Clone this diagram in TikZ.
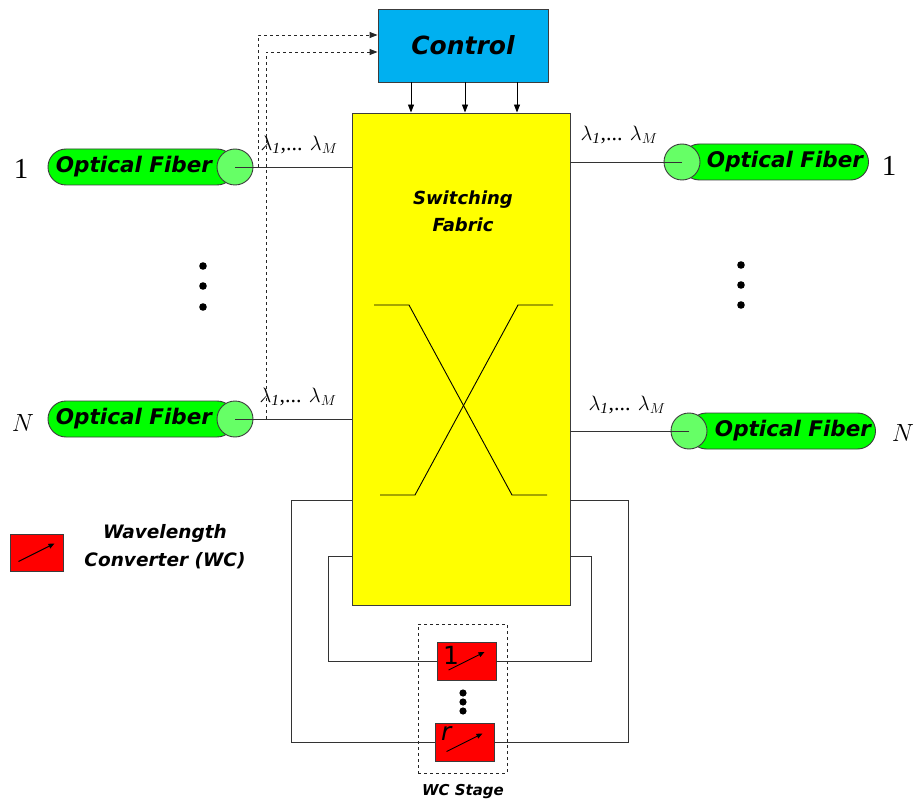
\documentclass[tikz,border=0pt]{standalone}
\usepackage{fontspec}
\setmainfont{Liberation Serif}
\newfontfamily\comicfont{DejaVu Sans}
\usetikzlibrary{arrows.meta,positioning}
\definecolor{ctrlblue}{RGB}{0,176,240}
\definecolor{fibgreen}{RGB}{0,255,0}
\definecolor{fiblight}{RGB}{102,255,102}
\definecolor{wcred}{RGB}{255,0,0}
\definecolor{fabyellow}{RGB}{255,255,0}
\definecolor{edgegray}{RGB}{60,60,60}
\newcommand\comicsize[2]{\comicfont\bfseries\itshape\fontsize{#1}{#2}\selectfont}

\begin{document}
\begin{tikzpicture}[x=1pt,y=-1pt,line width=0.9pt,>={Triangle[length=8pt,width=6pt]},
  ctrlbox/.style   ={draw=edgegray,fill=ctrlblue,minimum width=170pt,minimum height=73pt,font=\comicsize{25}{30}},
  fabricbox/.style ={draw=edgegray,fill=fabyellow,minimum width=218pt,minimum height=492pt},
  fiberbody/.style ={draw=edgegray,fill=fibgreen,rounded corners=18pt,minimum width=187pt,minimum height=36pt,inner sep=0pt},
  fiberend/.style  ={circle,draw=edgegray,fill=fiblight,minimum size=36pt,inner sep=0pt},
  fibertext/.style ={inner sep=0pt,font=\comicsize{21.5}{25}},
  wavelen/.style   ={inner sep=0pt,font=\fontsize{22}{26}\selectfont},
  portnum/.style   ={inner sep=0pt,font=\fontsize{29}{32}\selectfont},
  wcbox/.style     ={draw=edgegray,fill=wcred,minimum width=59pt,minimum height=38pt,inner sep=0pt},
  stagebox/.style  ={draw=black!85,dashed,minimum width=89pt,minimum height=149pt},
  convarrow/.style ={-{Triangle[length=6pt,width=5pt]}},
  fibline/.style   ={draw=black!80},
  loopline/.style  ={draw=black!80},
  tapline/.style   ={draw=black!85,dashed,->}]
\useasboundingbox (0,0) rectangle (916,805);

% control and switching fabric
\node[ctrlbox]   (control) at (463,45.5) {Control};
\node[fabricbox] (fabric)  at (461,359)  {};
\node[inner sep=0pt,align=center,font=\comicsize{18}{27}] (fabtxt) at (463,211) {Switching\\Fabric};
\foreach \dx in {-52,2,54}
  \draw[->] ([xshift=\dx pt]control.south) -- ([xshift=\dx pt]control.south |- fabric.north);
\draw (374,305) -- (409,305) -- (512,495) -- (547,495);
\draw (380,495) -- (415,495) -- (518,305) -- (553,305);

% input fibers
\node[fiberbody] (in1body) at (141.5,167) {};
\node[fiberend]  (in1)     at (235,167)   {};
\node[fibertext] (in1txt)  at (134,167)   {Optical Fiber};
\node[fiberbody] (inNbody) at (141.5,419) {};
\node[fiberend]  (inN)     at (235,419)   {};
\node[fibertext] (inNtxt)  at (134,419)   {Optical Fiber};
\node[portnum] (in1num) at (21,169) {1};
\node[portnum] (inNnum) at (23,423) {$N$};
\path[fibline] (in1.center) edge (in1.center -| fabric.west)
               (inN.center) edge (inN.center -| fabric.west);
\node[wavelen] (in1lam) at (299,145) {$\lambda_{\mathit{1}}$,... $\lambda_M$};
\node[wavelen] (inNlam) at (298,397) {$\lambda_{\mathit{1}}$,... $\lambda_M$};

% output fibers
\node[fiberbody] (out1body) at (775,162) {};
\node[fiberend]  (out1)     at (682,162) {};
\node[fibertext] (out1txt)  at (785,162) {Optical Fiber};
\node[fiberbody] (outNbody) at (782,431) {};
\node[fiberend]  (outN)     at (689,431) {};
\node[fibertext] (outNtxt)  at (793,431) {Optical Fiber};
\node[portnum] (out1num) at (889,166) {1};
\node[portnum] (outNnum) at (903,433) {$N$};
\path[fibline] (out1.center) edge (out1.center -| fabric.east)
               (outN.center) edge (outN.center -| fabric.east);
\node[wavelen] (out1lam) at (619,135) {$\lambda_{\mathit{1}}$,... $\lambda_M$};
\node[wavelen] (outNlam) at (627,405) {$\lambda_{\mathit{1}}$,... $\lambda_M$};

% dots
\foreach \y in {266,286,307} \fill (203,\y) circle (3.8pt);
\foreach \y in {265,285,305} \fill (741,\y) circle (3.8pt);

% taps to control
\coordinate (tap1) at (258,167);
\coordinate (tapN) at (266,419);
\draw[tapline] (tap1) |- ([yshift=10.5pt]control.west);
\draw[tapline] (tapN) |- ([yshift=-6.5pt]control.west);

% wavelength converter stage
\node[stagebox] (stage) at (462.5,698.5) {};
\node[inner sep=0pt,font=\comicsize{15}{18}] (stagetxt) at (463,792) {WC Stage};
\node[wcbox] (wc1) at (466.5,661)   {};
\node[wcbox] (wcr) at (464.5,742.5) {};
\draw[loopline] (wc1.west) -| (328,556) -- (fabric.west |- 328,556);
\draw[loopline] (wc1.east) -| (591,556) -- (fabric.east |- 591,556);
\draw[loopline] (wcr.west) -| (291,500) -- (fabric.west |- 291,500);
\draw[loopline] (wcr.east) -| (628,500) -- (fabric.east |- 628,500);
\node[inner sep=0pt,anchor=north west,font=\comicfont\fontsize{25}{25}\selectfont] (wc1lab) at ([shift={(6pt,-4pt)}]wc1.north west) {1};
\node[inner sep=0pt,anchor=north west,font=\comicfont\itshape\fontsize{25}{25}\selectfont] (wcrlab) at ([shift={(6pt,-3pt)}]wcr.north west) {r};
\foreach \y in {693,702,711} \fill (463,\y) circle (3.6pt);

% legend
\node[wcbox,minimum width=53pt,minimum height=37pt] (legwc) at (36.5,552.5) {};
\node[inner sep=0pt,align=center,font=\comicsize{18.5}{28}] (legtxt) at (165,547) {Wavelength\\Converter (WC)};
\foreach \b in {wc1,wcr,legwc}
  \draw[convarrow] ([shift={(-18pt,-9pt)}]\b.center) -- ([shift={(18pt,9pt)}]\b.center);
\end{tikzpicture}
\end{document}
